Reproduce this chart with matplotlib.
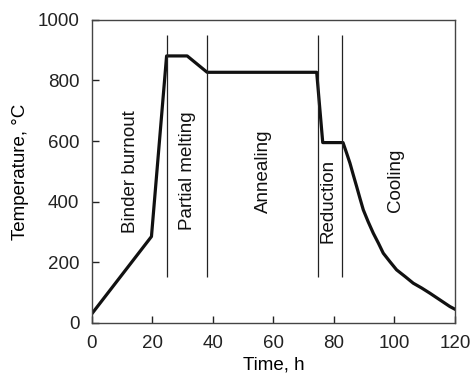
import matplotlib
matplotlib.use("Agg")
import matplotlib.pyplot as plt

plt.rcParams["font.family"] = ["Liberation Sans", "DejaVu Sans"]

# temperature profile
time_h = [0, 19.7, 24.7, 31.5, 38.1, 74.3, 76.3, 83.0,
          84.2, 85.3, 86.4, 87.5, 88.6, 89.7, 91.3, 93.0, 94.7, 96.3,
          98.5, 100.7, 103.5, 106.2, 109.0, 111.7, 115.0, 118.3, 120]
temp_c = [30, 285, 881, 881, 827, 827, 595, 595,
          560, 527, 488, 450, 411, 373, 334, 296, 263, 230,
          202, 175, 153, 131, 115, 98, 76, 54, 45]

# stage boundaries
stage_x = [24.9, 38.1, 74.8, 82.8]
stage_ymin, stage_ymax = 150, 950

stage_names = ["Binder burnout", "Partial melting", "Annealing", "Reduction", "Cooling"]
label_x = [12.7, 31.6, 56.7, 77.9, 100.2]
label_y = [500, 502, 500, 401, 469]

fig = plt.figure(figsize=(4.71, 3.75), dpi=100)
ax = fig.add_axes([0.195, 0.139, 0.771, 0.808])

ax.plot(time_h, temp_c, color="#111111", lw=2.3, solid_joinstyle="round")
ax.vlines(stage_x, stage_ymin, stage_ymax, color="#222222", lw=0.9)

for name, x, y in zip(stage_names, label_x, label_y):
    ax.text(x, y, name, rotation=90, ha="center", va="center", fontsize=13.5, color="#111111")

ax.set_xlim(0, 120)
ax.set_ylim(0, 1000)
ax.set_xticks([0, 20, 40, 60, 80, 100, 120])
ax.set_yticks([0, 200, 400, 600, 800, 1000])
ax.tick_params(direction="in", length=5, width=1, labelsize=13.5, pad=9, colors="#222222")
for s in ax.spines.values():
    s.set_color("#444444")
    s.set_linewidth(1)

ax.set_xlabel("Time, h", fontsize=13.5, labelpad=3)
ax.set_ylabel("Temperature, °C", fontsize=13.5, labelpad=6)

fig.savefig("out.png", dpi=100)
